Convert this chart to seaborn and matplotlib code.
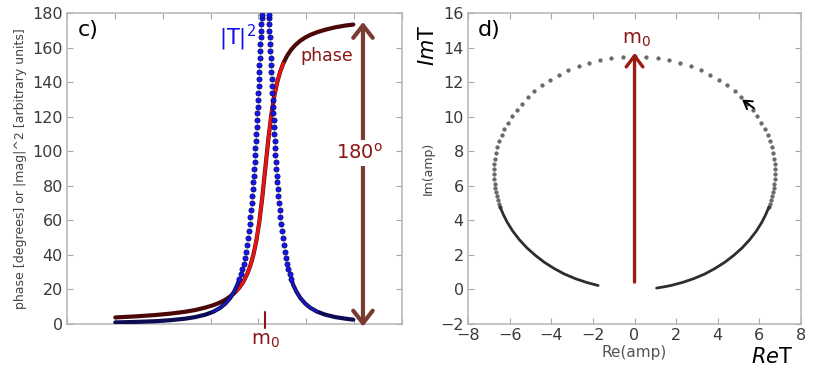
import numpy as np
import matplotlib
matplotlib.use("Agg")
import matplotlib.pyplot as plt
import seaborn as sns

# ---- panel c: mass axis runs 0..335 (no labels), resonance near 198 ----
phase_mass = [48.3, 68.3, 88.3, 103.3, 118.3, 128.3, 138.3, 146.3, 153.3, 158.3,
              163.3, 168.3, 172.3, 176.3, 180.3, 183.3, 186.3, 189.3, 192.3, 195.3,
              198.3, 201.3, 204.3, 207.3, 210.3, 213.3, 216.3, 220.3, 224.3, 228.3,
              233.3, 238.3, 243.3, 250.3, 258.3, 268.3, 278.3, 286.3]
phase_deg = [3.8, 4.4, 5.2, 6.0, 7.1, 8.1, 9.5, 10.9, 12.5, 14.0,
             16.0, 18.4, 21.0, 24.4, 29.1, 33.7, 39.8, 48.0, 59.0, 73.3,
             90.0, 106.7, 121.0, 132.0, 140.2, 146.3, 151.0, 155.6, 159.0, 161.6,
             164.1, 166.0, 167.5, 169.1, 170.5, 171.9, 172.9, 173.5]

# |T|^2 tails (dense, look like a line)
t2_left_mass = [48.3, 68.3, 88.3, 103.3, 118.3, 128.3, 138.3, 146.3, 153.3, 158.3,
                163.3, 167.3, 170.3, 172.4]
t2_left_vals = [0.9, 1.2, 1.6, 2.2, 3.1, 4.0, 5.4, 7.1, 9.4, 11.8,
                15.1, 18.9, 22.6, 26.0]
t2_right_mass = [224.2, 226.3, 229.3, 233.3, 238.3, 243.3, 250.3, 258.3, 268.3,
                 278.3, 286.3]
t2_right_vals = [26.0, 22.6, 18.9, 15.1, 11.8, 9.4, 7.1, 5.4, 4.0, 3.1, 2.5]

# |T|^2 near the peak (separate dots)
t2_peak_vals = [26, 29, 32, 35, 38, 42, 46, 50, 54, 58, 62, 66, 70, 74, 78, 82, 86,
                90, 94, 98, 102, 106, 110, 114, 118, 122, 126, 130, 134, 138, 142,
                146, 150, 154, 158, 162, 166, 170, 174, 177, 179]
t2_peak_left_mass = [172.4, 174.0, 175.4, 176.6, 177.7, 178.9, 180.0, 181.0, 181.9,
                     182.7, 183.4, 184.1, 184.7, 185.3, 185.8, 186.3, 186.8, 187.3,
                     187.7, 188.1, 188.5, 188.9, 189.3, 189.6, 190.0, 190.3, 190.6,
                     191.0, 191.3, 191.6, 191.9, 192.2, 192.5, 192.8, 193.1, 193.5,
                     193.8, 194.1, 194.4, 194.7, 194.9]
t2_peak_right_mass = [224.2, 222.6, 221.2, 220.0, 219.0, 217.7, 216.6, 215.6, 214.7,
                      214.0, 213.2, 212.6, 211.9, 211.4, 210.8, 210.3, 209.8, 209.4,
                      208.9, 208.5, 208.1, 207.7, 207.3, 207.0, 206.6, 206.3, 206.0,
                      205.6, 205.3, 205.0, 204.7, 204.4, 204.1, 203.8, 203.5, 203.2,
                      202.8, 202.5, 202.2, 201.9, 201.7]

# ---- panel d: Argand circle ----
circ_dot_re = [-0.56, -1.11, -1.66, -2.19, -2.69, -3.18, -3.64, -4.06, -4.46, -4.82,
               -5.13, -5.42, -5.67, -5.90, -6.09, -6.25, -6.39, -6.50, -6.59, -6.65,
               -6.70, -6.73, -6.75, -6.75, -6.74, -6.72, -6.69, -6.66, -6.61, -6.57,
               -6.51, -6.46,
               0.0,
               0.56, 1.11, 1.66, 2.19, 2.69, 3.18, 3.64, 4.06, 4.46, 4.82,
               5.13, 5.42, 5.67, 5.90, 6.09, 6.25, 6.39, 6.50, 6.59, 6.65,
               6.70, 6.73, 6.75, 6.75, 6.74, 6.72, 6.69, 6.66, 6.61, 6.57,
               6.51, 6.46]
circ_dot_im = [13.48, 13.41, 13.29, 13.14, 12.94, 12.70, 12.44, 12.14, 11.82, 11.48,
               11.13, 10.77, 10.41, 10.03, 9.67, 9.30, 8.94, 8.58, 8.23, 7.90,
               7.57, 7.26, 6.96, 6.67, 6.40, 6.13, 5.88, 5.64, 5.40, 5.19,
               4.98, 4.78,
               13.50,
               13.48, 13.41, 13.29, 13.14, 12.94, 12.70, 12.44, 12.14, 11.82, 11.48,
               11.13, 10.77, 10.41, 10.03, 9.67, 9.30, 8.94, 8.58, 8.23, 7.90,
               7.57, 7.26, 6.96, 6.67, 6.40, 6.13, 5.88, 5.64, 5.40, 5.19,
               4.98, 4.78]
arc_left_re = [-6.46, -6.30, -6.12, -5.85, -5.53, -5.17, -4.77, -4.34, -3.87, -3.38,
               -2.85, -2.31, -1.75]
arc_left_im = [4.78, 4.33, 3.90, 3.38, 2.88, 2.41, 1.98, 1.58, 1.22, 0.90,
               0.63, 0.41, 0.23]
arc_right_re = [6.46, 6.30, 6.12, 5.85, 5.53, 5.17, 4.77, 4.34, 3.87, 3.38,
                2.85, 2.31, 1.75, 1.40, 1.06]
arc_right_im = [4.78, 4.33, 3.90, 3.38, 2.88, 2.41, 1.98, 1.58, 1.22, 0.90,
                0.63, 0.41, 0.23, 0.15, 0.08]

m0_mass = 198.3

sns.set_theme(style="white")
plt.rcParams.update({
    "font.family": ["DejaVu Sans"],
    "axes.edgecolor": "#b4b4b4",
    "axes.linewidth": 1.1,
    "xtick.direction": "in",
    "ytick.direction": "in",
})

DARKRED = "#8b1414"
fig = plt.figure(figsize=(8.3, 3.74), dpi=100)
ax1 = fig.add_axes([0.0807, 0.1337, 0.4036, 0.8307])
ax2 = fig.add_axes([0.5639, 0.1337, 0.4012, 0.8307])

for ax in (ax1, ax2):
    ax.tick_params(top=True, right=True, bottom=True, left=True, length=4,
                   width=0.8, color="#a8a8a8", labelcolor="#3a3a3a",
                   labelsize=11.5, pad=3)

# ---- panel c ----
pm = np.array(phase_mass)
pd_ = np.array(phase_deg)
sns.lineplot(x=pm, y=pd_, ax=ax1, color="#4a0808", lw=3.0, sort=False,
             estimator=None, zorder=2)
mid = (pd_ >= 18) & (pd_ <= 152)
sns.lineplot(x=pm[mid], y=pd_[mid], ax=ax1, color="#e81414", lw=2.3, sort=False,
             estimator=None, zorder=2)

for xm, yv in ((t2_left_mass, t2_left_vals), (t2_right_mass, t2_right_vals)):
    xm = np.array(xm)
    yv = np.array(yv)
    sns.lineplot(x=xm, y=yv, ax=ax1, color="#0c0c55", lw=3.0, sort=False,
                 estimator=None, zorder=3)
    keep = yv >= 7
    sns.lineplot(x=xm[keep], y=yv[keep], ax=ax1, color="#1a1ad0", lw=1.4,
                 sort=False, estimator=None, zorder=3)

sns.scatterplot(x=t2_peak_left_mass + t2_peak_right_mass,
                y=t2_peak_vals + t2_peak_vals, ax=ax1, s=14, color="#1414f0",
                edgecolor="#06065a", linewidth=0.5, zorder=4)

ax1.set_xlim(0, 335)
ax1.set_ylim(0, 180)
ax1.set_xticks([i * 335 / 7 for i in range(8)])
ax1.set_xticklabels([])
ax1.set_yticks(range(0, 181, 20))
ax1.set_xlabel("")
ax1.set_ylabel("phase [degrees] or |mag|^2 [arbitrary units]", fontsize=9,
               color="#444444", labelpad=4)

ax1.text(0.033, 0.945, "c)", transform=ax1.transAxes, fontsize=16,
         color="black", ha="left", va="center")
ax1.text(170, 166, "|T|$^2$", fontsize=15, color="#1010ee", ha="center",
         va="center")
ax1.text(260, 155, "phase", fontsize=12.5, color=DARKRED, ha="center",
         va="center")

ax1.annotate("", xy=(296, 175), xytext=(296, -1.5),
             arrowprops=dict(arrowstyle="<->,head_length=0.45,head_width=0.35",
                             color="#7a3b35", lw=3, shrinkA=0, shrinkB=0,
                             mutation_scale=20),
             annotation_clip=False, zorder=5)
ax1.text(293, 99, "180$^{\\mathrm{o}}$", fontsize=14, color=DARKRED,
         ha="center", va="center", zorder=6,
         bbox=dict(facecolor="white", edgecolor="none", pad=2))

ax1.plot([m0_mass, m0_mass], [-2.3, 7], color=DARKRED, lw=1.5, clip_on=False,
         zorder=6)
ax1.text(m0_mass, -9.5, "m$_0$", fontsize=14, color=DARKRED, ha="center",
         va="center", clip_on=False)

# ---- panel d ----
sns.lineplot(x=arc_left_re, y=arc_left_im, ax=ax2, color="#2e2e2e", lw=2.0,
             sort=False, estimator=None)
sns.lineplot(x=arc_right_re, y=arc_right_im, ax=ax2, color="#2e2e2e", lw=2.0,
             sort=False, estimator=None)
sns.scatterplot(x=circ_dot_re, y=circ_dot_im, ax=ax2, s=7, color="#6a6a6a",
                edgecolor="#555555", linewidth=0.3)

ax2.annotate("", xy=(0, 13.7), xytext=(0, 0.43),
             arrowprops=dict(arrowstyle="->,head_length=0.4,head_width=0.3",
                             color="#9b1b10", lw=2.4, shrinkA=0, shrinkB=0,
                             mutation_scale=20), zorder=5)
ax2.text(0.1, 14.5, "m$_0$", fontsize=14, color=DARKRED, ha="center",
         va="center")
ax2.annotate("", xy=(5.17, 11.0), xytext=(5.74, 10.5),
             arrowprops=dict(arrowstyle="->,head_length=0.4,head_width=0.25",
                             color="black", lw=1.4, shrinkA=0, shrinkB=0,
                             mutation_scale=14))
ax2.text(0.03, 0.945, "d)", transform=ax2.transAxes, fontsize=16,
         color="black", ha="left", va="center")

ax2.set_xlim(-8, 8)
ax2.set_ylim(-2, 16)
ax2.set_xticks(range(-8, 9, 2))
ax2.set_yticks(range(-2, 17, 2))
ax2.set_xlabel("Re(amp)", fontsize=11, color="#555555", labelpad=1)
ax2.set_ylabel("Im(amp)", fontsize=9, color="#444444", labelpad=4)

fig.text(0.930, 0.045, "$\\mathit{Re}$T", fontsize=15, color="black",
         ha="center", va="center")
fig.text(0.5155, 0.88, "$\\mathit{Im}$T", fontsize=15, color="black",
         ha="center", va="center", rotation=90)

fig.savefig("out.png", dpi=100, facecolor="white")
